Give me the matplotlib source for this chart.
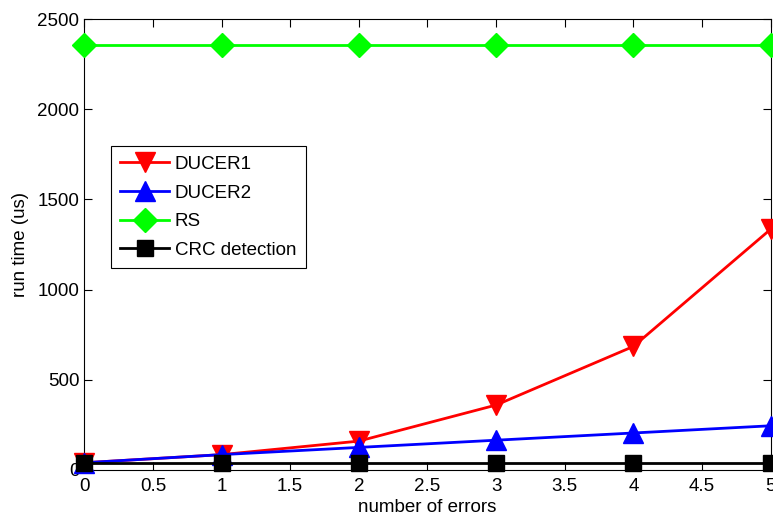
import matplotlib
matplotlib.use("Agg")
import matplotlib.pyplot as plt

plt.rcParams['font.family'] = ['Liberation Sans', 'DejaVu Sans']

# data
errors = [0, 1, 2, 3, 4, 5]
ducer1 = [40, 85, 160, 360, 685, 1335]
ducer2 = [40, 85, 125, 165, 205, 245]
rs = [2355, 2355, 2355, 2355, 2355, 2355]
crc = [40, 40, 40, 40, 40, 40]

xticks = [0, 0.5, 1, 1.5, 2, 2.5, 3, 3.5, 4, 4.5, 5]
yticks = [0, 500, 1000, 1500, 2000, 2500]

fig = plt.figure(figsize=(7.73, 5.17), dpi=100)
ax = fig.add_axes([0.109, 0.091, 0.888, 0.872])

ax.plot(errors, ducer1, color='#ff0000', marker='v', markersize=14, lw=2, label='DUCER1', clip_on=False, zorder=3)
ax.plot(errors, ducer2, color='#0000ff', marker='^', markersize=14, lw=2, label='DUCER2', clip_on=False, zorder=3)
ax.plot(errors, rs, color='#00ff00', marker='D', markersize=12, lw=2, label='RS', clip_on=False, zorder=3)
ax.plot(errors, crc, color='black', marker='s', markersize=11, lw=2, label='CRC detection', clip_on=False, zorder=4)

ax.set_xlim(0, 5)
ax.set_ylim(0, 2500)
ax.set_xticks(xticks)
ax.set_xticklabels(['0', '0.5', '1', '1.5', '2', '2.5', '3', '3.5', '4', '4.5', '5'])
ax.set_yticks(yticks)
ax.tick_params(direction='in', top=True, right=True, labelsize=13.5, length=6, width=0.8)
ax.tick_params(axis='x', pad=6)
ax.set_xlabel('number of errors', fontsize=13.5, labelpad=3)
ax.set_ylabel('run time (us)', fontsize=13.5, labelpad=6)

leg = ax.legend(loc='upper left', bbox_to_anchor=(0.039, 0.718), borderaxespad=0,
                fontsize=13.5, fancybox=False, framealpha=1, edgecolor='black',
                borderpad=0.5, labelspacing=0.62, handlelength=2.6, handletextpad=0.3)
leg.get_frame().set_linewidth(0.8)

fig.savefig('out.png', dpi=100)
